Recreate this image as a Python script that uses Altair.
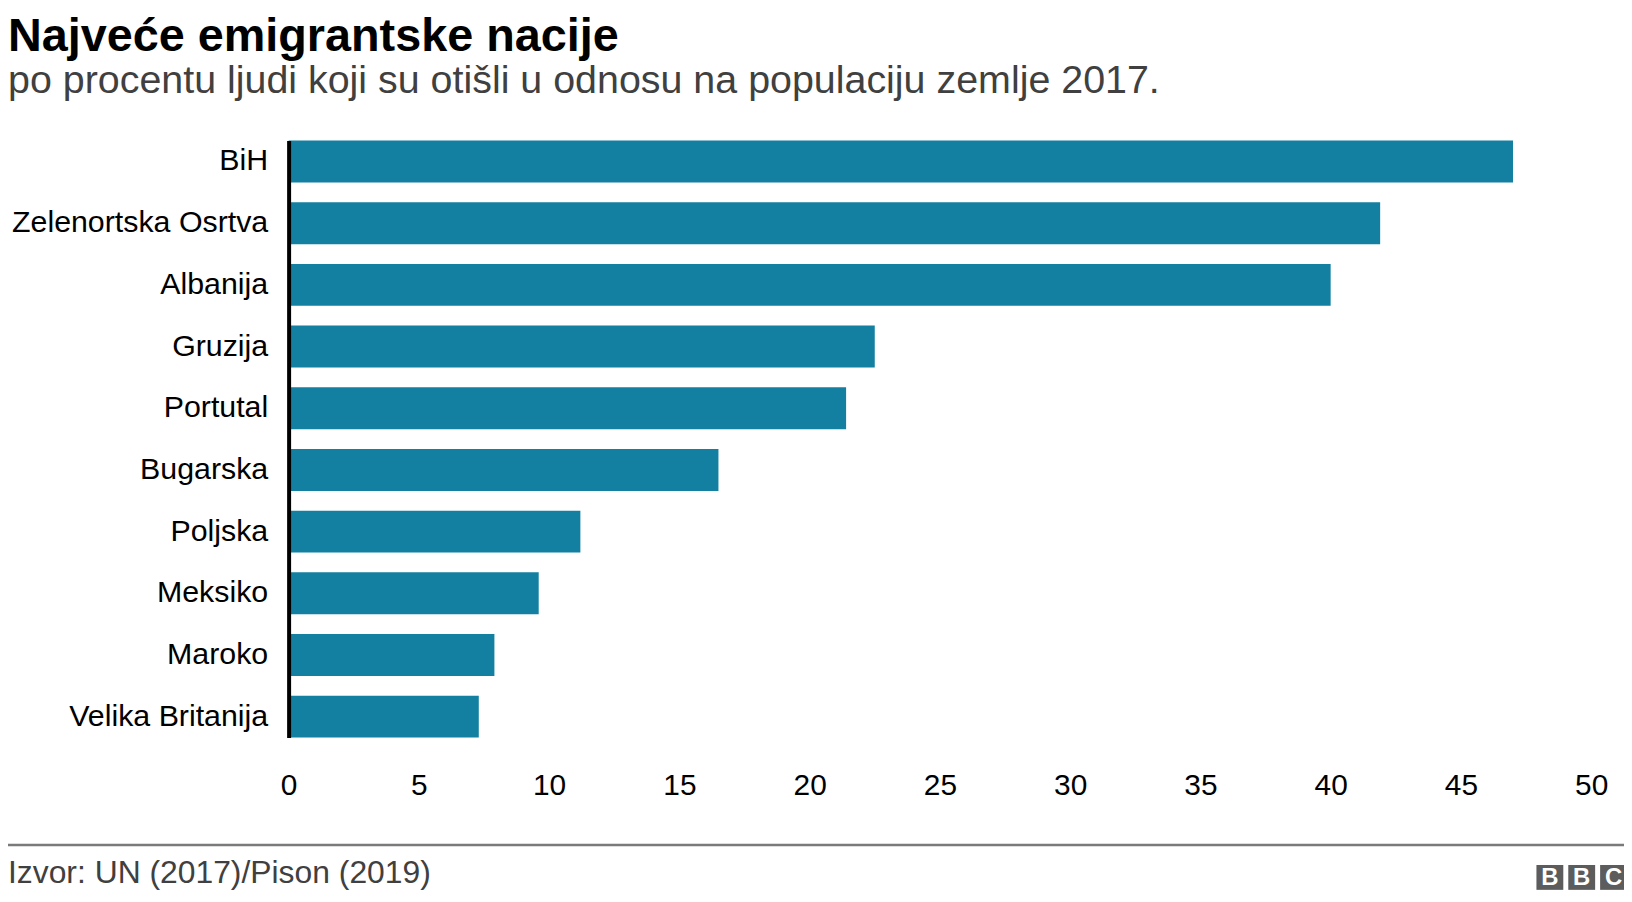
import altair as alt
import pandas as pd

countries = ["BiH", "Zelenortska Osrtva", "Albanija", "Gruzija", "Portutal",
             "Bugarska", "Poljska", "Meksiko", "Maroko", "Velika Britanija"]
values = [47.0, 41.9, 40.0, 22.5, 21.4, 16.5, 11.2, 9.6, 7.9, 7.3]
x_ticks = [0, 5, 10, 15, 20, 25, 30, 35, 40, 45, 50]

title_text = "Najveće emigrantske nacije"
subtitle_text = "po procentu ljudi koji su otišli u odnosu na populaciju zemlje 2017."
source_text = "Izvor: UN (2017)/Pison (2019)"
logo_letters = ["B", "B", "C"]

FONT = "Liberation Sans"
BAR = "#1380A1"

df = pd.DataFrame({"country": countries, "value": values})

W, H = 1309, 600
PAD_L, PAD_T, PAD_R, PAD_B = 282, 131, 33, 163

bars = alt.Chart(df).mark_bar(color=BAR).encode(
    x=alt.X("value:Q",
            scale=alt.Scale(domain=[0, 50], nice=False, zero=True),
            axis=alt.Axis(values=x_ticks, title=None, domain=False, ticks=False,
                          tickSize=0, grid=False, labelFont=FONT, labelFontSize=30,
                          labelColor="#000000", labelPadding=33, labelFlush=False,
                          labelOverlap=False)),
    y=alt.Y("country:N", sort=countries,
            scale=alt.Scale(paddingInner=0.32, paddingOuter=0),
            axis=alt.Axis(title=None, domain=True, domainColor="#000000",
                          domainWidth=4, ticks=False, tickSize=0, grid=False,
                          labelFont=FONT, labelFontSize=30.5, labelColor="#000000",
                          labelPadding=21, labelLimit=0, zindex=1)),
)

one = alt.Data(values=[{"k": 0}])

footer_line = alt.Chart(one).mark_rule(color="#7a7a7a", strokeWidth=2.5).encode(
    x=alt.value(-PAD_L), x2=alt.value(W + PAD_R), y=alt.value(708)
)

source = alt.Chart(one).mark_text(
    text=source_text, font=FONT, fontSize=32, color="#404040",
    align="left", baseline="alphabetic"
).encode(x=alt.value(-PAD_L), y=alt.value(746))

logo_layers = []
logo_x = [1254, 1286, 1318]
for letter, lx in zip(logo_letters, logo_x):
    logo_layers.append(
        alt.Chart(one).mark_rect(color="#5c5c5c").encode(
            x=alt.value(lx), x2=alt.value(lx + 27),
            y=alt.value(728), y2=alt.value(753))
    )
    logo_layers.append(
        alt.Chart(one).mark_text(
            text=letter, font=FONT, fontSize=24, fontWeight="bold",
            color="#ffffff", align="center", baseline="middle"
        ).encode(x=alt.value(lx + 13.5), y=alt.value(741))
    )

chart = alt.layer(bars, footer_line, source, *logo_layers).properties(
    width=W, height=H,
    background="#ffffff",
    padding={"left": PAD_L, "top": PAD_T, "right": PAD_R, "bottom": PAD_B},
    autosize=alt.AutoSizeParams(type="none"),
    title=alt.TitleParams(
        text=title_text, subtitle=subtitle_text,
        anchor="start", frame="group", dx=-PAD_L, offset=39.5,
        font=FONT, fontSize=47, fontWeight="bold", color="#000000",
        subtitleFont=FONT, subtitleFontSize=39.6, subtitleColor="#404040",
        subtitlePadding=0.7,
    ),
).configure_view(stroke=None)

chart.save("out.html", embed_options={"renderer": "svg", "actions": False})
